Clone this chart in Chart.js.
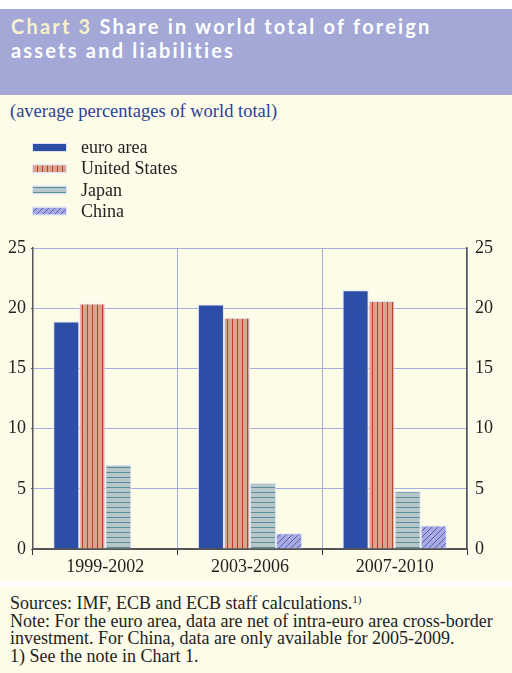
<!DOCTYPE html>
<html>
<head>
<meta charset="utf-8">
<script src="https://cdn.jsdelivr.net/npm/chart.js@4.4.0/dist/chart.umd.min.js"></script>
<style>
  html, body { margin: 0; padding: 0; background: #fff; }
  #page { position: relative; width: 512px; height: 673px; background: #fdfce9; overflow: hidden; }
  #topgap { position: absolute; left: 0; top: 0; width: 512px; height: 9px; background: #fff; }
  #banner { position: absolute; left: 0; top: 9px; width: 512px; height: 86px; background: #a3a8d6; }
  #banner h1 { margin: 0; position: absolute; left: 11px; top: 5px; font: bold 20px Lato, "Open Sans", sans-serif;
    letter-spacing: 2.2px; line-height: 24px; color: #fff; }
  #banner h1 span { color: #f8f1cc; }
  #subtitle { position: absolute; left: 10px; top: 101px; font: 18.5px "Liberation Serif", "Times New Roman", serif; color: #2b3f96; }
  #chartWrap { position: absolute; left: 0; top: 95px; width: 512px; height: 486px; }
  #sep { position: absolute; left: 0; top: 581px; width: 512px; height: 6px; background: #fff; }
  #footer { position: absolute; left: 10px; top: 595px; font: 18px "Liberation Serif", "Times New Roman", serif; line-height: 17.5px; color: #222; }
  #footer sup { font-size: 11px; vertical-align: 6px; line-height: 0; }
</style>
</head>
<body>
<div id="page">
  <div id="topgap"></div>
  <div id="banner"><h1><span>Chart 3</span> Share in world total of foreign<br>assets and liabilities</h1></div>
  <div id="subtitle">(average percentages of world total)</div>
  <div id="chartWrap"><canvas id="shareChart" width="512" height="486"></canvas></div>
  <div id="sep"></div>
  <div id="footer">Sources: IMF, ECB and ECB staff calculations.<sup>1)</sup><br>Note: For the euro area, data are net of intra-euro area cross-border<br>investment. For China, data are only available for 2005-2009.<br>1) See the note in Chart 1.</div>
</div>
<script>
const categories = ['1999-2002', '2003-2006', '2007-2010'];
const seriesNames = ['euro area', 'United States', 'Japan', 'China'];
const euroArea = [18.9, 20.3, 21.5];
const unitedStates = [20.4, 19.2, 20.6];
const japan = [7.0, 5.5, 4.8];
const china = [null, 1.3, 1.95];
const yTicks = [0, 5, 10, 15, 20, 25];

const gridColor = '#a7acdf';
const axisColor = '#555';

// small canvas tiles for the hatched bars
function makePattern(bg, fg, kind) {
    const size = kind === 'diag' ? 6 : 5;
    const c = document.createElement('canvas');
    c.width = size; c.height = size;
    const g = c.getContext('2d');
    g.fillStyle = bg;
    g.fillRect(0, 0, size, size);
    g.fillStyle = fg;
    g.strokeStyle = fg;
    if (kind === 'vert') g.fillRect(2, 0, 1, size);
    if (kind === 'horiz') g.fillRect(0, 2, size, 1);
    if (kind === 'diag') {
        g.lineWidth = 1;
        g.beginPath();
        g.moveTo(0, size); g.lineTo(size, 0);
        g.moveTo(-1, 1); g.lineTo(1, -1);
        g.moveTo(size - 1, size + 1); g.lineTo(size + 1, size - 1);
        g.stroke();
    }
    return g.createPattern(c, 'repeat');
}

const fills = [
    '#2c4ea6',
    makePattern('#dba28e', '#b8402c', 'vert'),
    makePattern('#b7c6c9', '#5a8c99', 'horiz'),
    makePattern('#a7abe2', '#5860b6', 'diag')
];

// legend drawn as a vertical list above the plot
const legendList = {
    id: 'legendList',
    afterDraw(chart) {
        const ctx = chart.ctx;
        ctx.save();
        chart.data.datasets.forEach((ds, i) => {
            const y = 52.5 + i * 21.2;
            ctx.fillStyle = ds.backgroundColor;
            ctx.fillRect(33, y - 3.5, 33, 7);
            ctx.strokeStyle = '#dfe3f6';
            ctx.lineWidth = 1;
            ctx.strokeRect(32.5, y - 4, 34, 8);
            ctx.fillStyle = '#222';
            ctx.font = '18px "Liberation Serif", "Times New Roman", serif';
            ctx.textBaseline = 'middle';
            ctx.fillText(ds.label, 81, y + 1);
        });
        ctx.restore();
    }
};

const values = [euroArea, unitedStates, japan, china];
const tickFont = { family: '"Liberation Serif", "Times New Roman", serif', size: 18 };

new Chart(document.getElementById('shareChart').getContext('2d'), {
    type: 'bar',
    data: {
        labels: categories,
        datasets: seriesNames.map((name, i) => ({
            label: name,
            data: values[i],
            backgroundColor: fills[i],
            borderColor: '#dfe3f6',
            borderWidth: 1,
            yAxisID: 'y'
        }))
    },
    options: {
        responsive: false,
        animation: false,
        categoryPercentage: 0.72,
        barPercentage: 1.0,
        layout: { padding: { top: 153, bottom: 6, left: 0, right: 0 } },
        plugins: { legend: { display: false }, tooltip: { enabled: false } },
        scales: {
            x: {
                grid: {
                    offset: true,
                    color: (c) => (c.index === 0 || c.index === categories.length) ? 'rgba(0,0,0,0)' : gridColor,
                    tickColor: '#333',
                    tickLength: 6,
                    lineWidth: 1
                },
                border: { display: true, color: axisColor, width: 2 },
                ticks: { font: tickFont, color: '#222', padding: 1 },
                afterFit: (s) => { s.height = 26; }
            },
            y: {
                position: 'left',
                min: 0, max: 25,
                afterBuildTicks: (s) => { s.ticks = yTicks.map(v => ({ value: v })); },
                grid: {
                    color: (c) => (c.tick && c.tick.value === 0) ? 'rgba(0,0,0,0)' : gridColor,
                    tickColor: axisColor,
                    tickLength: 2
                },
                border: { display: true, color: axisColor, width: 1.5 },
                ticks: { font: tickFont, color: '#222', padding: 5 },
                afterFit: (s) => { s.width = 33; }
            },
            y2: {
                position: 'right',
                min: 0, max: 25,
                afterBuildTicks: (s) => { s.ticks = yTicks.map(v => ({ value: v })); },
                grid: { display: false, drawTicks: false },
                border: { display: true, color: axisColor, width: 1.5 },
                ticks: { font: tickFont, color: '#222', padding: 8 },
                afterFit: (s) => { s.width = 45; }
            }
        }
    },
    plugins: [legendList]
});
</script>
</body>
</html>
